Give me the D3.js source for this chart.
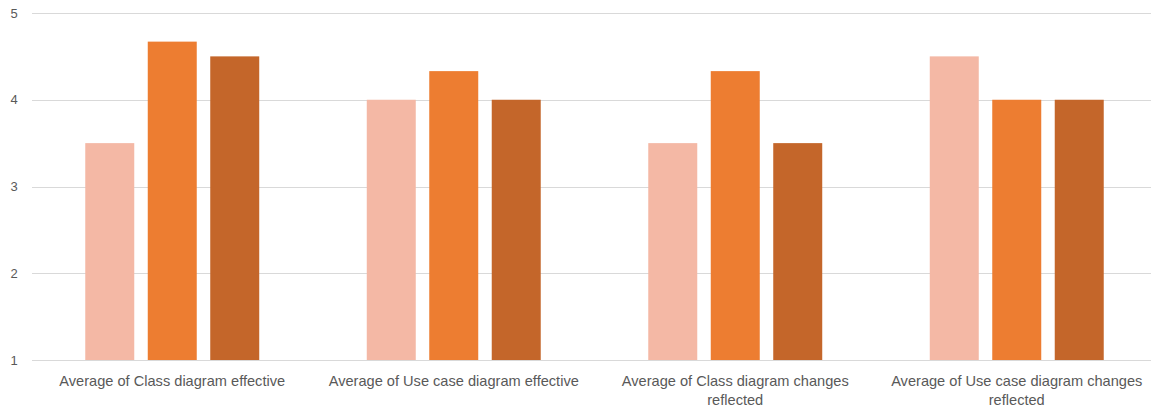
<!DOCTYPE html>
<html>
<head>
<meta charset="utf-8">
<script src="https://cdn.jsdelivr.net/npm/d3@7"></script>
<style>
  html, body { margin: 0; padding: 0; background: #fff; }
  svg { display: block; }
  text { font-family: "Liberation Sans", Arial, sans-serif; fill: #595959; }
</style>
</head>
<body>
<svg id="chart" width="1151" height="411"></svg>
<script>
// Categories and the three series of averages
const categories = [
  ["Average of Class diagram effective"],
  ["Average of Use case diagram effective"],
  ["Average of Class diagram changes", "reflected"],
  ["Average of Use case diagram changes", "reflected"]
];
const seriesA = [3.5, 4, 3.5, 4.5];
const seriesB = [4.67, 4.33, 4.33, 4];
const seriesC = [4.5, 4, 3.5, 4];
const yTicks = [1, 2, 3, 4, 5];
const seriesColors = ["#F4B8A5", "#ED7D31", "#C4662A"];

const series = [seriesA, seriesB, seriesC];
const svg = d3.select("#chart");

const x0 = d3.scaleBand()
  .domain(d3.range(categories.length))
  .range([31.5, 1157.5])
  .paddingInner(0.382)
  .paddingOuter(0.191);

const x1 = d3.scaleBand()
  .domain(d3.range(series.length))
  .range([0, x0.bandwidth()])
  .paddingInner(0.216);

const y = d3.scaleLinear().domain([1, 5]).range([360, 13]);

// Horizontal gridlines
svg.append("g")
  .selectAll("line")
  .data(yTicks)
  .join("line")
  .attr("x1", 32).attr("x2", 1151)
  .attr("y1", d => Math.round(y(d)) + 0.5)
  .attr("y2", d => Math.round(y(d)) + 0.5)
  .attr("stroke", "#D9D9D9")
  .attr("stroke-width", 1);

// Y tick labels
svg.append("g")
  .selectAll("text")
  .data(yTicks)
  .join("text")
  .attr("x", 14)
  .attr("y", d => y(d))
  .attr("dy", "0.35em")
  .attr("text-anchor", "middle")
  .style("font-size", "13px")
  .text(d => d);

// Bars
const groups = svg.append("g")
  .selectAll("g")
  .data(categories.map((c, i) => i))
  .join("g")
  .attr("transform", i => `translate(${x0(i)},0)`);

groups.selectAll("rect")
  .data(i => series.map((s, k) => ({ k, v: s[i] })))
  .join("rect")
  .attr("x", d => x1(d.k))
  .attr("width", x1.bandwidth())
  .attr("y", d => y(d.v))
  .attr("height", d => y(1) - y(d.v))
  .attr("fill", d => seriesColors[d.k]);

// Category labels
const labels = svg.append("g")
  .selectAll("text")
  .data(categories)
  .join("text")
  .attr("x", (c, i) => x0(i) + x0.bandwidth() / 2)
  .attr("y", 386)
  .attr("text-anchor", "middle")
  .style("font-size", "14.6px");

labels.selectAll("tspan")
  .data(d => d)
  .join("tspan")
  .attr("x", function () { return d3.select(this.parentNode).attr("x"); })
  .attr("dy", (d, j) => j === 0 ? 0 : 19)
  .text(d => d);
</script>
</body>
</html>
